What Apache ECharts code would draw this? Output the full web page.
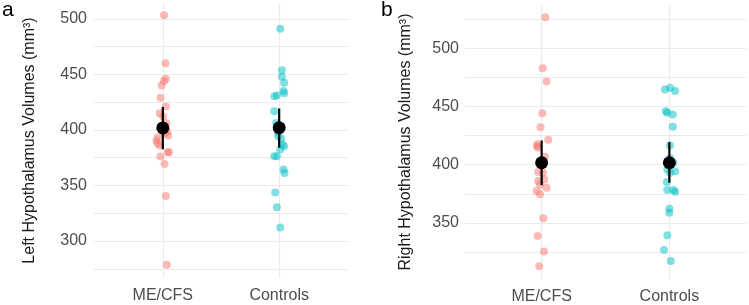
<!DOCTYPE html>
<html>
<head>
<meta charset="utf-8">
<script src="https://cdn.jsdelivr.net/npm/echarts@6/dist/echarts.min.js"></script>
<style>
html, body { margin: 0; padding: 0; background: #fff; }
#chart { width: 749px; height: 305px; }
</style>
</head>
<body>
<div id="chart"></div>
<script>
// groups on the x axis
const groups = ['ME/CFS', 'Controls']

// panel a - left hypothalamus, values and horizontal jitter (in category units)
const leftMe = [503.3, 460, 446, 444, 440, 429, 421, 415, 412, 406, 403, 398.5, 397, 395, 393.4, 390.4, 388, 386, 380, 380, 376, 369.4, 340.5, 278.7]
const leftMeJit = [0.011, 0.023, 0.026, 0.009, -0.011, -0.020, 0.026, -0.026, 0.003, 0.032, -0.010, 0.037, 0.017, 0.046, -0.041, -0.054, -0.047, -0.026, 0.052, 0.043, -0.020, 0.015, 0.026, 0.034]
const leftCtrl = [491, 453.8, 447.8, 442.4, 435.1, 433, 430.4, 431, 416.8, 406.3, 398, 394.5, 392.3, 387, 385.3, 382.3, 376.3, 376.3, 364.3, 361.3, 343.6, 330.4, 312.3]
const leftCtrlJit = [0.009, 0.023, 0.023, 0.043, 0.037, 0.043, -0.041, -0.020, -0.043, -0.026, -0.011, -0.009, 0.017, 0.026, 0.043, 0.009, -0.020, -0.043, 0.037, 0.046, -0.034, -0.020, 0.009]

// panel b - right hypothalamus
const rightMe = [526.4, 482.7, 471.3, 444.2, 432.2, 421.4, 417.6, 416, 414.6, 406.8, 401, 393.7, 393.1, 387.4, 386, 383, 380.3, 377.4, 374.6, 354, 338.9, 325.5, 312.9]
const rightMeJit = [0.028, 0.008, 0.039, 0.005, -0.008, 0.052, -0.031, -0.037, -0.027, 0.026, -0.013, -0.027, 0.010, 0.020, -0.027, -0.013, 0.039, -0.039, -0.013, 0.013, -0.031, 0.018, -0.019]
const rightCtrl = [466, 464.5, 463.3, 445.9, 444.5, 443, 432.5, 416.5, 405.5, 401.7, 396, 394.5, 393.1, 385.1, 378.3, 378.3, 376.9, 362.3, 358.9, 339.5, 326.9, 317.5]
const rightCtrlJit = [0.005, -0.034, 0.045, -0.028, -0.016, 0.027, 0.027, 0.005, 0.005, 0.031, -0.016, 0.045, 0.005, -0.020, -0.016, 0.031, 0.045, 0, 0, -0.016, -0.042, 0.011]

// group means with 95% interval: [mean, low, high]
const leftSummary = [[401.8, 382.6, 420.7], [402.0, 384.1, 419.3]]
const rightSummary = [[401.7, 382.5, 420.8], [401.7, 384.6, 419.4]]

// tick labels and grid lines
const leftTicks = [300, 350, 400, 450, 500]
const leftLines = [275, 300, 325, 350, 375, 400, 425, 450, 475, 500]
const rightTicks = [350, 400, 450, 500]
const rightLines = [325, 350, 375, 400, 425, 450, 475, 500, 525]

const colors = ['rgba(248,118,109,0.5)', 'rgba(0,191,196,0.5)']
const font = 'Liberation Sans, Arial, Helvetica, sans-serif'

function pts (vals, jit, pos) {
  return vals.map((v, i) => [pos + jit[i], v])
}

function xAxis (idx) {
  return {
    gridIndex: idx,
    type: 'value',
    min: 0.4,
    max: 2.6,
    axisLine: { show: false },
    axisTick: { show: false, customValues: [1, 2] },
    axisLabel: {
      customValues: [1, 2],
      formatter: v => groups[Math.round(v) - 1],
      margin: 10,
      fontSize: 16,
      color: '#4d4d4d',
      fontFamily: font
    },
    splitLine: { show: true, lineStyle: { color: '#ebebeb', width: 1.1 } }
  }
}

function yAxis (idx, name, min, max, ticks, lines, gap) {
  return {
    gridIndex: idx,
    type: 'value',
    min: min,
    max: max,
    name: name,
    nameLocation: 'middle',
    nameRotate: 90,
    nameGap: gap,
    nameTextStyle: { fontSize: 16, color: '#1a1a1a', fontFamily: font },
    axisLine: { show: false },
    axisTick: { show: false, customValues: lines },
    axisLabel: { customValues: ticks, margin: 6, fontSize: 16, color: '#4d4d4d', fontFamily: font },
    splitLine: { show: true, lineStyle: { color: '#ebebeb', width: 1.1 } }
  }
}

function panelSeries (idx, me, meJit, ctrl, ctrlJit, summary) {
  let out = [
    { type: 'scatter', xAxisIndex: idx, yAxisIndex: idx, data: pts(me, meJit, 1), symbolSize: 8, itemStyle: { color: colors[0], opacity: 1 }, z: 2 },
    { type: 'scatter', xAxisIndex: idx, yAxisIndex: idx, data: pts(ctrl, ctrlJit, 2), symbolSize: 8, itemStyle: { color: colors[1], opacity: 1 }, z: 2 }
  ]
  summary.forEach((s, g) => {
    out.push({
      type: 'line',
      xAxisIndex: idx,
      yAxisIndex: idx,
      data: [[g + 1, s[1]], [g + 1, s[2]]],
      symbol: 'none',
      lineStyle: { color: '#000', width: 2.2 },
      z: 3
    })
    out.push({
      type: 'scatter',
      xAxisIndex: idx,
      yAxisIndex: idx,
      data: [[g + 1, s[0]]],
      symbolSize: 13,
      itemStyle: { color: '#000', opacity: 1 },
      z: 4
    })
  })
  return out
}

const chart = echarts.init(document.getElementById('chart'), null, { renderer: 'canvas' })
chart.setOption({
  animation: false,
  backgroundColor: '#fff',
  textStyle: { fontFamily: font },
  grid: [
    { left: 93, right: 400, top: 3, bottom: 27 },
    { left: 465, right: 3, top: 5, bottom: 25 }
  ],
  xAxis: [xAxis(0), xAxis(1)],
  yAxis: [
    yAxis(0, 'Left Hypothalamus Volumes (mm³)', 266.75, 514.25, leftTicks, leftLines, 55),
    yAxis(1, 'Right Hypothalamus Volumes (mm³)', 302, 537, rightTicks, rightLines, 51)
  ],
  graphic: [
    { type: 'text', left: 2, top: 0, style: { text: 'a', fontSize: 21, fill: '#000', fontFamily: font } },
    { type: 'text', left: 381, top: 0, style: { text: 'b', fontSize: 21, fill: '#000', fontFamily: font } }
  ],
  series: [
    ...panelSeries(0, leftMe, leftMeJit, leftCtrl, leftCtrlJit, leftSummary),
    ...panelSeries(1, rightMe, rightMeJit, rightCtrl, rightCtrlJit, rightSummary)
  ]
})
</script>
</body>
</html>
